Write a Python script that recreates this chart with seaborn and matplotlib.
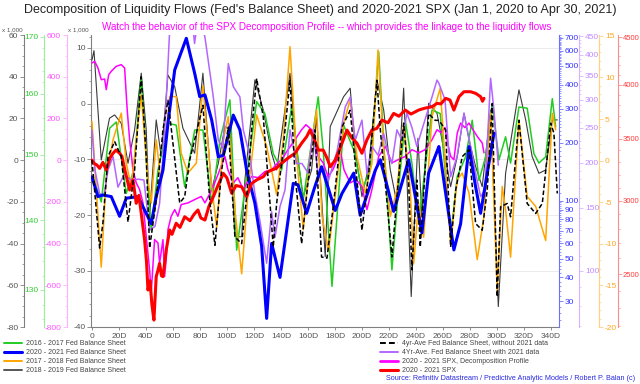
import matplotlib
matplotlib.use("Agg")
import matplotlib.pyplot as plt
import seaborn as sns
import numpy as np
from matplotlib.lines import Line2D
from matplotlib.ticker import FixedLocator, FixedFormatter, NullFormatter

sns.set_style("ticks")
plt.rcParams['font.family'] = ['Liberation Sans', 'DejaVu Sans']

# ---------------- data ----------------
x_ticks = [0, 20, 40, 60, 80, 100, 120, 140, 160, 180, 200, 220, 240, 260, 280, 300, 320, 340]
x_labels = ['0'] + [f'{d}D' for d in x_ticks[1:]]

# 4yr-Ave Fed Balance Sheet, without 2021 data (main axis, x 1,000)
avg_ex21_day = [0, 5.7, 8.1, 11.9, 16.8, 21.7, 26.7, 31.6, 36.5, 40.2, 42.7, 47.6, 52.6, 56.3, 60, 65, 68.7, 72.4, 77.3, 82.2,
                87.4, 91.1, 96.1, 101, 105.9, 110.9, 114.6, 118.3, 122, 126.9, 131.9, 134.3, 136.8, 140.5, 146.7, 150.4, 155.3, 160.2, 165.2, 170.1,
                174.1, 179, 185.2, 191.3, 195, 200, 205, 211.1, 213.6, 217.3, 222.2, 225.9, 230.9, 234.6, 237, 240.7, 243.2, 249.4, 254.3, 257,
                262, 265.7, 269.4, 274.3, 279.3, 284.2, 289.1, 292.8, 296.5, 300.2, 302.7, 307.6, 310.1, 316.3, 322.4, 328.7, 333.6, 339.8, 342.2, 344.7]
avg_ex21_val = [-10.1, -25.9, -21.4, -9.5, -6.8, -9.5, -21.2, -11.9, 4.8, -9.5, -25.9, -17.3, -4.7, 0.6, -7.1, -17.8, -16.7, -10.1, -5.3, -0.3,
                -17.8, -25.4, -11.9, -4.2, -23.9, -25.1, -16.7, -4.7, 4.5, -2.4, -17.9, -25.7, -17.9, -10.7, 4.2, -12.5, -25.1, -13.7, -4.7, -27.5,
                -27.7, -17.9, -4.2, -1.2, -10.7, -22.7, -12.5, 4.2, -4.7, -14.3, -27.5, -16.7, -3.5, -14.3, -29.8, -13.7, -25.7, -1.8, -3, -3,
                -4.7, -25.7, -15.5, -9.5, -8.3, -21.5, -22.7, -15.5, 0, -34.6, -18.5, -17.9, -20.3, -3, -17.9, -19.7, -17.9, -3.5, -5.3, -16.1]

# 2018 - 2019 Fed Balance Sheet (gray axis, x 1,000)
fbs1819_day = [0, 1.5, 6.9, 13, 16.8, 21.7, 26.7, 31.6, 36.5, 40.2, 42.7, 47.6, 51.3, 56.3, 61.3, 67.4, 76.1, 82.2, 88.7, 93.6,
               98.5, 102.2, 105.9, 110.9, 113.3, 120.7, 126.9, 133.1, 136.8, 146.7, 151.6, 156.5, 162.7, 166.4, 172.8, 176.5, 186.4, 191.3, 195, 200,
               205, 211.1, 216.1, 221, 225.9, 230.9, 236.5, 241.5, 244.4, 249.4, 255.6, 265.7, 270.6, 275.6, 279.3, 284.2, 289.1, 295.3, 301, 306.4,
               316.3, 321.3, 326.1, 331.1, 336.1, 341, 344.7]
fbs1819_val = [48, 52.5, 0.1, 20.1, 21.7, 17.7, -1.5, 14.5, 41.7, 14.5, -27.1, 19.3, 1.7, 40.8, 35.2, 15.3, 3.3, 41.7, -14.3, -1.5,
               16.1, 14.5, -36.7, -36.7, -9.5, 38.5, 24.1, 3.3, -4.7, 41.7, 4.9, -17.5, -4.7, 20.9, -46.3, 16.1, 30.4, 34.5, 4.9, -17.5,
               -3.1, 38.5, 24.1, -4.7, -20.7, 34.5, -65.4, 10.5, -27.1, 27.3, 22.5, -12.7, 1.7, 22.5, 9.7, -3.1, -12.7, 24.1, -70.2, -6.3,
               33.7, 19.3, 1.7, -6.3, -4.7, 19.3, 19.3]

# 2016 - 2017 Fed Balance Sheet (green axis)
fbs1617_day = [0.7, 6.9, 13.1, 18, 25.4, 31, 36.5, 41.5, 43.9, 48.9, 56.3, 62.4, 68.7, 76.1, 82.2, 88.7, 94.8, 102.2, 107.2, 114.6,
               122, 128.1, 134.3, 140.5, 147.9, 156.5, 167.6, 171.3, 177.8, 186.4, 193.9, 200, 206.1, 212.4, 216.1, 222.2, 227.2, 232.1, 237, 242,
               251.9, 258, 265.7, 270.6, 276.8, 281.7, 286.7, 291.6, 296.5, 301.5, 306.4, 310.1, 316.3, 322.4, 327.4, 331.1, 336.1, 341, 343.5]
fbs1617_val = [146.6, 142.7, 154.3, 155.3, 144.0, 147.6, 162.9, 145.0, 138.5, 147.6, 155.1, 154.8, 145.0, 154.0, 154.0, 142.5, 152.4, 159.0, 135.6, 146.6,
               158.7, 156.7, 150.2, 147.6, 157.8, 143.0, 159.5, 150.8, 130.5, 154.8, 150.8, 144.5, 147.6, 167.3, 151.8, 132.8, 145.0, 155.6, 148.7, 139.5,
               157.3, 156.7, 137.5, 146.6, 149.7, 155.6, 146.0, 149.7, 158.4, 149.2, 152.9, 148.7, 157.8, 157.6, 150.2, 148.7, 149.7, 159.2, 154.5]

# 2017 - 2018 Fed Balance Sheet (orange axis)
fbs1718_day = [0, 6.9, 10.6, 15.6, 21.7, 25.4, 29.1, 36.5, 41.5, 43.9, 47.6, 51.3, 57.6, 62.4, 66.1, 71.1, 77.3, 82.2, 88.7, 92.4,
               97.3, 101, 105.9, 110.9, 115.8, 122, 129.4, 136.8, 141.7, 146.7, 151.6, 156.5, 161.5, 166.4, 170.4, 175.3, 180.2, 186.4, 191.3, 196.3,
               202.4, 207.4, 211.9, 216.1, 221, 225.9, 230.9, 235.8, 238.3, 242, 245.7, 251.9, 258, 265.7, 270.6, 274.3, 279.3, 285.4, 290.4, 295.3,
               300.2, 303.9, 306.4, 310.1, 316.3, 322.4, 328.7, 336.1, 341, 343.5]
fbs1718_val = [4.7, -12.8, -1.9, 2.5, 5.7, -0.3, -3.1, 7.9, -2.3, -5.1, 2.5, -2.7, 7.7, 7.7, 0.9, -1.5, -0.3, 9.0, -3.1, -8.0,
               2.5, 5.3, -5.9, -13.6, -3.5, 5.5, 1.7, -4.1, 2.5, 13.7, 0.5, -8.3, 0.5, 6.1, -6.7, -10.8, -4.3, 4.5, 7.3, 0.5,
               -3.9, -0.3, 13.3, 1.3, -6.7, -3.5, 4.5, -3.5, -12.4, -5.1, -9.2, 5.3, 8.7, -10.0, -2.3, -1.5, -3.9, -11.9, -6.7, 5.7,
               -15.6, -3.1, -5.9, -11.6, 4.9, -4.3, -5.5, -9.6, 5.7, 3.7]

# 2020 - 2021 Fed Balance Sheet (blue log axis)
fbs2021_day = [0, 4.4, 8.1, 14.3, 20.5, 25.4, 34.1, 43.9, 47.6, 52.6, 56.3, 61.3, 69.9, 76.1, 79.8, 83.7, 88.7, 93.6, 97.3, 104.7,
               109.6, 114.6, 120.7, 125.7, 129.4, 133.1, 139.3, 144.2, 149.1, 152.6, 159, 164.4, 170.1, 180.2, 185.2, 193.9, 198.7, 209.9, 213.6, 223.5,
               234.6, 244.4, 249.4, 255.6, 257, 268.1, 273.1, 279.3, 284.2, 287.9, 292.6, 297.8]
fbs2021_val = [133, 105, 107, 105, 83, 103, 105, 76, 105, 144, 252, 477, 696, 458, 347, 354, 262, 169, 172, 278,
               233, 144, 97, 58, 24.5, 60, 40, 70, 123, 121, 86, 114, 150, 89, 109, 139, 84, 144, 163, 88,
               163, 68, 139, 180, 191, 55.5, 76, 191, 118, 86, 136, 224]

# 4Yr-Ave. Fed Balance Sheet with 2021 data (purple log axis)
avg_in21_day = [0, 2.2, 5.7, 8.9, 11.9, 15.6, 19.3, 23.7, 29.1, 34.1, 38.5, 42.7, 46.7, 50.1, 53.9, 57.6, 62, 68, 73, 76,
                79, 83.7, 89.9, 93.6, 97, 101, 104.7, 109.6, 112.1, 117, 120.7, 124.4, 129.4, 133.1, 135.6, 139.3, 143, 146.7, 151.6, 155.6,
                160.2, 163.9, 167.6, 170.4, 175.3, 181.5, 187.6, 191.3, 195, 200, 203.7, 207.4, 211.9, 216.1, 219.8, 222.2, 225.9, 229.6, 233.3, 237,
                240.7, 244.4, 251.9, 255.6, 257, 261.5, 265.7, 270.4, 275.6, 280.5, 283.7, 287.9, 291.1, 295.3, 297.8, 301]
avg_in21_val = [247, 191, 164, 162, 191, 208, 171, 185, 179, 180, 179, 130, 133, 154, 247, 470, 560, 620, 560, 430,
                520, 448, 305, 231, 220, 378, 326, 305, 247, 208, 164, 138, 105, 146, 124, 151, 168, 247, 199, 199,
                187, 247, 183, 191, 179, 215, 286, 305, 231, 263, 187, 222, 210, 241, 208, 199, 247, 231, 275, 251,
                222, 247, 305, 340, 333, 300, 183, 208, 275, 222, 191, 161, 168, 344, 280, 197]

# 2020 - 2021 SPX, Decomposition Profile (pink axis)
spx_dec_day = [0, 2, 4.4, 6.9, 9.4, 10.6, 12.4, 14.3, 18, 21.7, 24.2, 26.1, 27.9, 30.4, 32.8, 35.3, 37.8, 40.2, 42.7, 43.9,
               46.4, 48.9, 50.1, 52.6, 53.8, 55, 56.3, 58.7, 61.3, 63.7, 66.1, 71.1, 76.1, 81, 83.7, 88.9, 93.3, 98.5, 100.7, 104.7,
               108.1, 112.1, 114.8, 118.3, 123, 128.1, 133.1, 137.8, 140.5, 145.2, 150.4, 155.3, 158.5, 162.7, 165.2, 167.6, 171.3, 174.8, 178.5, 181.5,
               183.9, 186.7, 191.3, 195.6, 200, 203.7, 207.4, 212.4, 217.3, 222.2, 226.7, 232.1, 237, 242, 246.7, 251.9, 255.6, 258.5, 261.5, 263.7,
               265.7, 268.1, 270.6, 273.1, 276.3, 279.3, 282.2, 285.4, 289.1, 290.4]
spx_dec_val = [466, 474, 443, 386, 389, 338, 410, 426, 450, 458, 442, 242, 98, -46, -109, -141, -205, -365, -525, -635,
               -381, -397, -493, -381, -558, -477, -333, -269, -237, -269, -213, -205, -189, -174, -205, -141, -70, 18, -46, -109,
               -84, -141, -108, -78, -84, -55, -46, -12, 2, 50, 98, 146, 170, 146, 98, 18, -13, -78, -46, 2,
               50, -46, -109, -93, -126, -237, -141, 18, 66, -13, 2, 18, 50, 35, 50, 98, 146, 132, 156, 74,
               18, 2, 130, 178, 156, 178, 146, 114, 82, 35]

# 2020 - 2021 SPX (red log axis)
spx_day = [0, 1.5, 3.7, 5.7, 8.1, 10.6, 13.3, 15.6, 17.8, 20.5, 22.2, 24.4, 27.9, 30.4, 32.8, 34.8, 36.5, 39, 40.4, 41.5,
           43, 44.4, 45.9, 47.6, 48.9, 50.1, 51.5, 52.6, 55, 57.6, 59.3, 62.4, 65.2, 68.7, 72.6, 75.6, 78.5, 80.7, 83.7, 86.7,
           89.9, 93.3, 97.3, 100, 103.5, 106.7, 110.9, 114.6, 118.3, 122.2, 126.9, 129.6, 133.1, 136.3, 140.5, 145.2, 150.4, 155.3, 159, 161.5,
           164.4, 167.6, 171.3, 174.1, 176.5, 180.2, 185.2, 188.9, 192.6, 196.3, 200, 203.7, 207.4, 211.1, 214.8, 219.3, 223.5, 227.4, 232.1, 236.3,
           242, 246.7, 251.9, 255.6, 258.5, 262, 265.2, 268.1, 271.9, 275.6, 280.5, 284.2, 287.9, 289.3, 290.4]
spx_val = [3318, 3292, 3278, 3251, 3300, 3237, 3335, 3375, 3402, 3375, 3350, 3237, 3081, 3160, 2981, 3040, 2908, 2722, 2580, 2404,
           2460, 2320, 2231, 2485, 2525, 2568, 2490, 2485, 2654, 2790, 2760, 2837, 2808, 2883, 2855, 2900, 2932, 2874, 2860, 2960,
           3030, 3115, 3211, 3175, 3056, 3115, 3106, 3030, 3132, 3160, 3184, 3220, 3237, 3250, 3292, 3335, 3375, 3460, 3516, 3575,
           3505, 3402, 3402, 3335, 3264, 3318, 3460, 3575, 3505, 3460, 3375, 3490, 3575, 3590, 3665, 3640, 3726, 3700, 3757, 3720,
           3757, 3775, 3788, 3820, 3815, 3868, 3852, 3757, 3884, 3932, 3932, 3916, 3884, 3840, 3868]

legend_left = ['2016 - 2017 Fed Balance Sheet', '2020 - 2021 Fed Balance Sheet',
               '2017 - 2018 Fed Balance Sheet', '2018 - 2019 Fed Balance Sheet']
legend_right = ['4yr-Ave Fed Balance Sheet, without 2021 data', '4Yr-Ave. Fed Balance Sheet with 2021 data',
                '2020 - 2021 SPX, Decomposition Profile', '2020 - 2021 SPX']

title = "Decomposition of Liquidity Flows (Fed's Balance Sheet) and 2020-2021 SPX (Jan 1, 2020 to Apr 30, 2021)"
subtitle = "Watch the behavior of the SPX Decomposition Profile -- which provides the linkage to the liquidity flows"
source = "Source: Refinitiv Datastream / Predictive Analytic Models / Robert P. Balan (c)"

# ---------------- figure ----------------
fig = plt.figure(figsize=(6.4, 3.84), dpi=100)
ax = fig.add_axes([0.1422, 0.1484, 0.7313, 0.7604])
XLIM = (-0.7, 346)


def style_y(t, side, pos, spine_c, lab_c, ticks, labels, minor, lsize=6, pad=1):
    for s in t.spines.values():
        s.set_visible(False)
    sp = t.spines[side]
    sp.set_visible(True)
    sp.set_color(spine_c)
    sp.set_linewidth(0.8)
    if pos is not None:
        sp.set_position(('axes', pos))
    if side == 'left':
        t.yaxis.tick_left()
    else:
        t.yaxis.tick_right()
    t.yaxis.set_major_locator(FixedLocator(ticks))
    t.yaxis.set_major_formatter(FixedFormatter(labels))
    t.yaxis.set_minor_locator(FixedLocator(minor))
    t.yaxis.set_minor_formatter(NullFormatter())
    t.tick_params(axis='y', which='major', length=3, width=0.6, color=spine_c,
                  labelcolor=lab_c, labelsize=lsize, pad=pad)
    t.tick_params(axis='y', which='minor', length=1.5, width=0.5, color=spine_c)
    t.set_ylabel('')


def draw(t, xs, ys, **kw):
    n = min(len(xs), len(ys))
    sns.lineplot(x=list(xs[:n]), y=list(ys[:n]), ax=t, estimator=None, sort=False, legend=False, **kw)


# main axis (grid + ticks)
ax.set_ylim(-40.05, 12.3)
ax.grid(axis='y', color='#e8e8e8', lw=0.6)
ax.set_axisbelow(True)
style_y(ax, 'left', None, '#808080', '#555555', [-40, -30, -20, -10, 0, 10],
        ['-40', '-30', '-20', '-10', '0', '10'], list(range(-40, 13, 2)))
ax.spines['bottom'].set_visible(True)
ax.spines['bottom'].set_color('#808080')
ax.spines['bottom'].set_linewidth(0.8)
ax.set_xticks(x_ticks)
ax.set_xticklabels(x_labels)
ax.tick_params(axis='x', length=2.5, width=0.6, color='#808080', labelcolor='#555555', labelsize=6, pad=2)

# gray axis (2018-2019)
ax_g = ax.twinx()
draw(ax_g, fbs1819_day, fbs1819_val, color='#3a3a3a', lw=0.8)
ax_g.set_ylim(-80, 60)
style_y(ax_g, 'left', -0.1432, '#808080', '#555555', list(range(-80, 61, 20)),
        [str(v) for v in range(-80, 61, 20)], list(range(-80, 61, 5)))

# green axis (2016-2017)
ax_gr = ax.twinx()
draw(ax_gr, fbs1617_day, fbs1617_val, color='#22CC22', lw=1.1)
ax_gr.set_yscale('log')
ax_gr.set_ylim(125.0, 170.3)
style_y(ax_gr, 'left', -0.1004, '#99EE99', '#33CC33', [130, 140, 150, 160, 170],
        ['130', '140', '150', '160', '170'], list(range(126, 171, 2)))

# pink axis (SPX decomposition)
ax_p = ax.twinx()
ax_p.set_ylim(-800, 600)
style_y(ax_p, 'left', -0.0519, '#FFB0FF', '#FF55FF', list(range(-800, 601, 200)),
        [str(v) for v in range(-800, 601, 200)], list(range(-800, 601, 50)))

# orange axis (2017-2018)
ax_o = ax.twinx()
draw(ax_o, fbs1718_day, fbs1718_val, color='#FFA500', lw=1.1)
ax_o.set_ylim(-20, 15.1)
style_y(ax_o, 'right', 1.0861, '#FFD27F', '#FFA620', list(range(-20, 16, 5)),
        [str(v) for v in range(-20, 16, 5)], list(range(-20, 16, 1)))

# purple axis (4yr ave with 2021)
ax_pu = ax.twinx()
draw(ax_pu, avg_in21_day, avg_in21_val, color='#B266FF', lw=1.1)
ax_pu.set_yscale('log')
ax_pu.set_ylim(69.7, 454)
style_y(ax_pu, 'right', 1.0434, '#D9B3FF', '#C08AFF', list(range(100, 451, 50)),
        [str(v) for v in range(100, 451, 50)], list(range(70, 455, 10)))

# magenta on pink axis
draw(ax_p, spx_dec_day, spx_dec_val, color='#FF00FF', lw=1.1)
ax_p.set_ylim(-800, 600)

# blue axis (2020-2021)
ax_b = ax.twinx()
draw(ax_b, fbs2021_day, fbs2021_val, color='#0000FF', lw=2.2)
ax_b.set_yscale('log')
ax_b.set_ylim(22.1, 724)
blue_t = [30, 40, 50, 60, 70, 80, 90, 100, 200, 300, 400, 500, 600, 700]
style_y(ax_b, 'right', None, '#7070FF', '#3535FF', blue_t, [str(v) for v in blue_t],
        list(range(24, 100, 2)) + list(range(110, 724, 10)))

# red axis (SPX)
ax_r = ax.twinx()
draw(ax_r, spx_day, spx_val, color='#FF0000', lw=2.2)
ax_r.set_yscale('log')
ax_r.set_ylim(2193, 4526)
red_t = [2500, 3000, 3500, 4000, 4500]
style_y(ax_r, 'right', 1.1254, '#FF8C8C', '#FF3B3B', red_t, [str(v) for v in red_t],
        list(range(2200, 4526, 100)), lsize=5.5, pad=0.5)

# dashed average on top (main-axis scale)
ax_d = ax.twinx()
draw(ax_d, avg_ex21_day, avg_ex21_val, color='black', lw=1.1, linestyle=(0, (3, 1.6)))
ax_d.set_ylim(-40.05, 12.3)
for s in ax_d.spines.values():
    s.set_visible(False)
ax_d.set_yticks([])
ax_d.set_ylabel('')

ax.set_xlim(*XLIM)
ax.set_xlabel('')

# texts
fig.text(0.5, 1 - 10.5 / 384, title, ha='center', va='center', fontsize=9, color='#222222')
fig.text(327 / 640, 1 - 27 / 384, subtitle, ha='center', va='center', fontsize=7.1, color='#FF00FF')
fig.text(2 / 640, 1 - 30 / 384, 'x 1,000', ha='left', va='center', fontsize=4.5, color='#555555')
fig.text(68 / 640, 1 - 30 / 384, 'x 1,000', ha='left', va='center', fontsize=4.5, color='#555555')
fig.text(635 / 640, 1 - 378.5 / 384, source, ha='right', va='center', fontsize=5.2, color='#2a2ae0')

# legends
hl = [Line2D([], [], color='#22CC22', lw=1.4), Line2D([], [], color='#0000FF', lw=2.2),
      Line2D([], [], color='#FFA500', lw=1.4), Line2D([], [], color='#555555', lw=1.4)]
hr = [Line2D([], [], color='black', lw=1.4, linestyle=(0, (3, 1.6))), Line2D([], [], color='#B266FF', lw=1.4),
      Line2D([], [], color='#FF00FF', lw=2.0), Line2D([], [], color='#FF0000', lw=2.2)]
kw = dict(frameon=False, fontsize=5.0, handlelength=2.6, handletextpad=0.5, labelspacing=0.3,
          borderaxespad=0, borderpad=0, loc='upper left')
fig.legend(hl, legend_left, bbox_to_anchor=(4 / 640, 1 - 340 / 384), labelcolor='#444444', **kw)
fig.legend(hr, legend_right, bbox_to_anchor=(380 / 640, 1 - 340 / 384), labelcolor='#444444', **kw)

fig.savefig('out.png', dpi=100)
